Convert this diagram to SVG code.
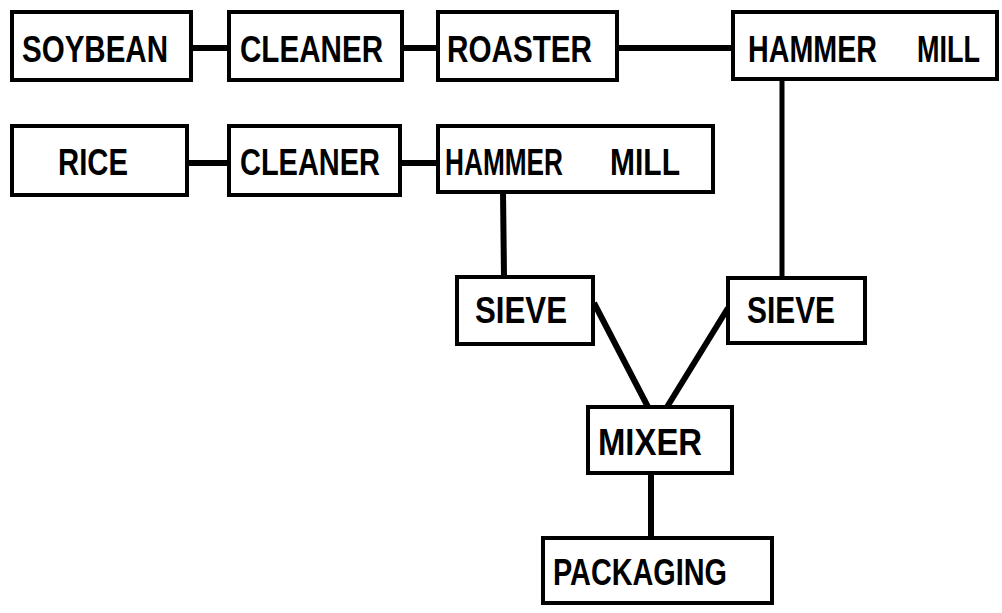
<svg xmlns="http://www.w3.org/2000/svg" width="1002" height="613" viewBox="0 0 1002 613">
<style>
.box{fill:#fff;stroke:#000;stroke-width:4}
.t{font-family:"Liberation Sans",Arial,sans-serif;font-weight:bold;font-size:36px;fill:#000}
.c{stroke:#000;stroke-width:6;fill:none}
</style>
<rect width="1002" height="613" fill="#fff"/>
<g id="connectors">
<line class="c" x1="191" y1="48" x2="229" y2="48"/>
<line class="c" x1="402" y1="48" x2="438" y2="48"/>
<line class="c" x1="617" y1="48" x2="733" y2="48"/>
<line class="c" x1="187" y1="163" x2="229" y2="163"/>
<line class="c" x1="400" y1="163" x2="438" y2="163"/>
<line class="c" x1="782" y1="80" x2="782" y2="278" style="stroke-width:5"/>
<line class="c" x1="503" y1="192" x2="504" y2="277"/>
<line class="c" x1="594" y1="303" x2="648" y2="407"/>
<line class="c" x1="728" y1="308" x2="667" y2="407"/>
<line class="c" x1="651" y1="473" x2="651" y2="538"/>
</g>
<g id="soybean"><rect class="box" x="12" y="12" width="179" height="68"/><text class="t" x="22" y="62" textLength="146" lengthAdjust="spacingAndGlyphs">SOYBEAN</text></g>
<g id="cleaner1"><rect class="box" x="229" y="12" width="173" height="68"/><text class="t" x="240" y="62" textLength="143" lengthAdjust="spacingAndGlyphs">CLEANER</text></g>
<g id="roaster"><rect class="box" x="438" y="12" width="179" height="68"/><text class="t" x="447" y="62" textLength="145" lengthAdjust="spacingAndGlyphs">ROASTER</text></g>
<g id="hammermill1"><rect class="box" x="733" y="12" width="264" height="67"/><text class="t" x="748" y="62" textLength="129" lengthAdjust="spacingAndGlyphs">HAMMER</text><text class="t" x="917" y="62" textLength="63" lengthAdjust="spacingAndGlyphs">MILL</text></g>
<g id="rice"><rect class="box" x="12" y="126" width="175" height="69"/><text class="t" x="58" y="175" textLength="70" lengthAdjust="spacingAndGlyphs">RICE</text></g>
<g id="cleaner2"><rect class="box" x="229" y="126" width="171" height="69"/><text class="t" x="240" y="175" textLength="140" lengthAdjust="spacingAndGlyphs">CLEANER</text></g>
<g id="hammermill2"><rect class="box" x="438" y="126" width="275" height="66"/><text class="t" x="445" y="175" textLength="118" lengthAdjust="spacingAndGlyphs">HAMMER</text><text class="t" x="610" y="175" textLength="70" lengthAdjust="spacingAndGlyphs">MILL</text></g>
<g id="sieve1"><rect class="box" x="457" y="277" width="136" height="67"/><text class="t" x="475" y="323" textLength="92" lengthAdjust="spacingAndGlyphs">SIEVE</text></g>
<g id="sieve2"><rect class="box" x="728" y="278" width="137" height="65"/><text class="t" x="747" y="323" textLength="88" lengthAdjust="spacingAndGlyphs">SIEVE</text></g>
<g id="mixer"><rect class="box" x="588" y="407" width="144" height="66"/><text class="t" x="598" y="455" textLength="104" lengthAdjust="spacingAndGlyphs">MIXER</text></g>
<g id="packaging"><rect class="box" x="543" y="538" width="229" height="65"/><text class="t" x="553" y="585" textLength="174" lengthAdjust="spacingAndGlyphs">PACKAGING</text></g>
</svg>
